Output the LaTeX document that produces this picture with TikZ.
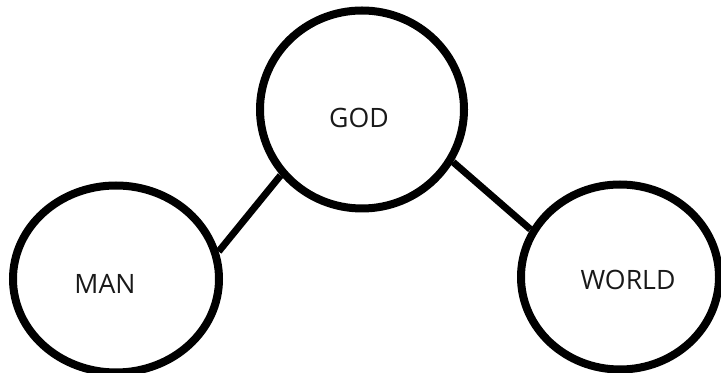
\documentclass[tikz,border=0pt]{standalone}
\usepackage{fontspec}
\setmainfont{Open Sans}
\usetikzlibrary{shapes.geometric}

\tikzset{every picture/.style={line width=0.75pt}}
\tikzset{
  bubble/.style={draw=black, ellipse, line width=6pt, inner sep=0pt,
    font=\fontsize{20}{24}\selectfont, text=black!90},
  link/.style={draw=black, line width=5.2pt}
}

\begin{document}
\begin{tikzpicture}[x=0.75pt,y=0.75pt,yscale=-1,xscale=1]
			\useasboundingbox (0,0) rectangle (721,373);
			
			%Ellipses
			\node [bubble, minimum width=204*0.75pt, minimum height=198*0.75pt] (god) at (362,109.5) {};
			\node [bubble, minimum width=206*0.75pt, minimum height=187*0.75pt] (man) at (116,279) {};
			\node [bubble, minimum width=198*0.75pt, minimum height=185*0.75pt] (world) at (620,277) {};
			
			%Straight Lines
			\draw [link] (god.219) -- (man.15) ;
			%Straight Lines
			\draw [link] (god.330) -- (world.152) ;
			
			% Text Node
			\draw (359,118) node [bubble, draw=none] (godlabel) {GOD};
			% Text Node
			\draw (105,284) node [bubble, draw=none] (manlabel) {MAN};
			% Text Node
			\draw (628,280) node [bubble, draw=none] (worldlabel) {WORLD};
		\end{tikzpicture}
\end{document}
